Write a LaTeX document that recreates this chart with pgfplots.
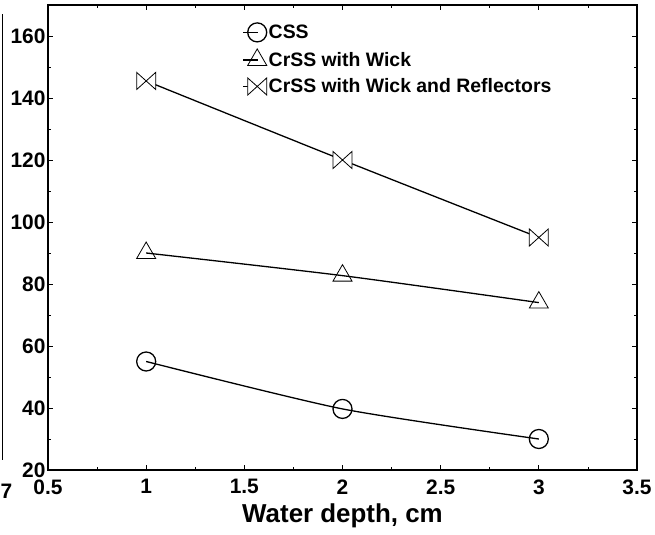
\documentclass[border=0pt]{standalone}
\usepackage{fontspec}
\setmainfont{Liberation Sans}
\usepackage{pgfplots}
\pgfplotsset{compat=1.18}
\pgfdeclareplotmark{bowtie}{%
  \pgfpathmoveto{\pgfqpoint{-\pgfplotmarksize}{-0.9\pgfplotmarksize}}%
  \pgfpathlineto{\pgfqpoint{\pgfplotmarksize}{0.9\pgfplotmarksize}}%
  \pgfpathlineto{\pgfqpoint{\pgfplotmarksize}{-0.9\pgfplotmarksize}}%
  \pgfpathlineto{\pgfqpoint{-\pgfplotmarksize}{0.9\pgfplotmarksize}}%
  \pgfpathclose
  \pgfusepathqfillstroke}
\begin{document}
\begin{tikzpicture}
\path[use as bounding box] (0,0) rectangle (655bp,535bp);
\draw[line width=1.5bp] (2.5bp,75bp) -- (2.5bp,521bp);
\node[anchor=base west, font=\bfseries\fontsize{21}{24}\selectfont, inner sep=0pt] at (0.5bp,37bp) {7};
\begin{axis}[
  at={(48bp,65bp)}, anchor=south west,
  scale only axis, width=589bp, height=465bp,
  xmin=0.5, xmax=3.5, ymin=20, ymax=170,
  xtick={0.5,1,...,3.5}, ytick={20,40,...,160},
  minor x tick num=1, minor y tick num=1,
  tick align=inside, tick pos=both,
  major tick length=5bp, minor tick length=3bp,
  every tick/.style={black, line width=0.8bp},
  axis line style={line width=2bp},
  /pgf/number format/assume math mode=true,
  xticklabel={\pgfmathprintnumber{\tick}},
  yticklabel={\pgfmathprintnumber{\tick}},
  tick label style={font=\bfseries\fontsize{21}{24}\selectfont},
  xticklabel style={yshift=-6bp},
  yticklabel style={xshift=1bp},
  xlabel={Water depth, cm},
  xlabel style={font=\bfseries\fontsize{26}{30}\selectfont, yshift=-3bp},
  legend style={at={(0.33,0.962)}, anchor=north west, draw=none, fill=none,
    font=\bfseries\fontsize{19.5}{22}\selectfont, row sep=7bp, inner sep=0pt},
  legend cell align=left,
  legend image code/.code={\draw[mark repeat=2,mark phase=2,#1] plot coordinates {(-4bp,0cm) (10bp,0cm)};},
  every axis plot/.append style={black, line width=1.3bp, smooth, tension=0.4,
    mark options={fill=white, line width=0.8bp, solid}},
]
\addplot[mark=o, mark size=9.5bp, mark options={fill=white}] coordinates {(1,55) (2,39.7) (3,30)};
\addlegendentry{CSS}
\addplot[mark=triangle, mark size=11bp] coordinates {(1,90) (2,82.7) (3,74)};
\addlegendentry{CrSS with Wick}
\addplot[mark=bowtie, mark size=9.5bp] coordinates {(1,145.5) (2,120) (3,95)};
\addlegendentry{CrSS with Wick and Reflectors}
\end{axis}
\end{tikzpicture}
\end{document}
